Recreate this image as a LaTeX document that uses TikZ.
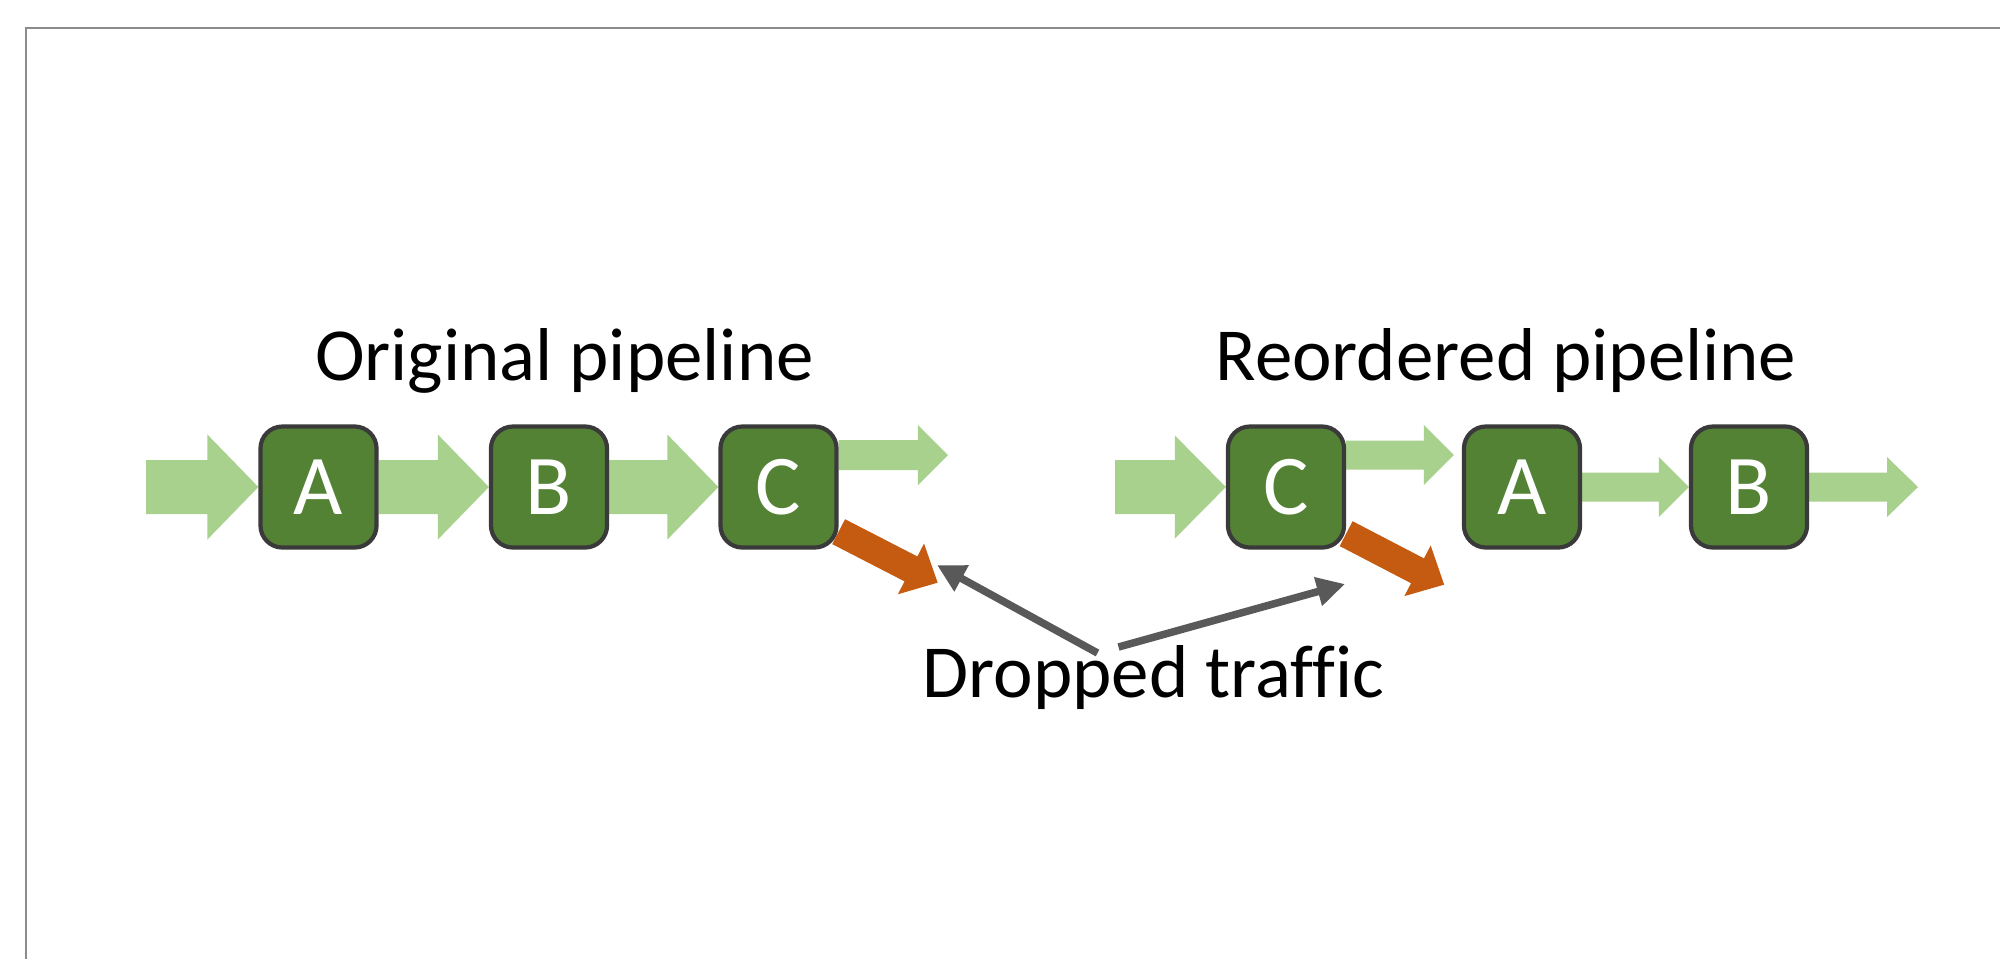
\documentclass[tikz,border=0pt]{standalone}
\usepackage{fontspec}
\setmainfont{Carlito}[Ligatures=NoCommon]
\usetikzlibrary{calc,arrows.meta}
\definecolor{lgreen}{HTML}{A9D18E}
\definecolor{dgreen}{HTML}{548235}
\definecolor{boxedge}{HTML}{3A3A3A}
\definecolor{dorange}{HTML}{C55A11}
\definecolor{pgrey}{HTML}{595959}
\definecolor{framegrey}{HTML}{8C8C8C}
\pgfdeclarelayer{paper}
\pgfdeclarelayer{bg}
\pgfsetlayers{paper,bg,main}
% #1 style, #2 start, #3 tip, #4 shaft half width, #5 head half width, #6 head length
\newcommand\fatarrow[6]{%
  \coordinate (fa-s) at (#2);
  \coordinate (fa-e) at (#3);
  \coordinate (fa-h) at ($(fa-e)!#6!(fa-s)$);
  \fill[#1] ($(fa-s)!#4!90:(fa-e)$) -- ($(fa-h)!#4!90:(fa-e)$) -- ($(fa-h)!#5!90:(fa-e)$)
    -- (fa-e) -- ($(fa-h)!#5!-90:(fa-e)$) -- ($(fa-h)!#4!-90:(fa-e)$)
    -- ($(fa-s)!#4!-90:(fa-e)$) -- cycle;
}
\begin{document}
\begin{tikzpicture}[x=0.01cm,y=-0.01cm,
  stage/.style={draw=boxedge, line width=0.042cm, fill=dgreen, rounded corners=0.22cm,
    minimum width=1.16cm, minimum height=1.21cm, inner sep=0pt, text=white,
    font=\fontsize{24.2}{29}\selectfont, text height=0.55cm, text depth=0pt},
  title/.style={font=\fontsize{21.3}{26}\selectfont, anchor=base, inner sep=0pt},
  pointer/.style={draw=pgrey, line width=0.075cm, -{Triangle[length=0.28cm,width=0.28cm]}},
  flow/.style={fill=lgreen},
  dropflow/.style={fill=dorange}]
\begin{pgfonlayer}{paper}
\fill[white] (0,0) rectangle (2000,959);
\end{pgfonlayer}
\useasboundingbox (0,0) rectangle (2000,959);
\draw[framegrey, line width=0.018cm] (26,959) -- (26,28) -- (2000,28);

\node[title] (t1) at (564.5,380) {Original pipeline};
\node[title] (t2) at (1506,380) {Reordered pipeline};
\node[title] (drop) at (1153.5,697) {Dropped traffic};

\node[stage] (A1) at (318.5,487) {A};
\node[stage] (B1) at (549,487) {B};
\node[stage] (C1) at (778.5,487) {C};
\node[stage] (C2) at (1286,487) {C};
\node[stage] (A2) at (1522,487) {A};
\node[stage] (B2) at (1749,487) {B};

\coordinate (in1) at (146,487);
\coordinate (out1) at (948,455);
\coordinate (in2) at (1115,487);
\coordinate (out2) at (1918,487);
\coordinate (tipL) at ($(C1.south east)+(99,33)$);
\coordinate (tipR) at ($(C2.south east)+(98,35)$);
\coordinate (dL) at (937,565);
\coordinate (dR) at (1345,584);

\begin{pgfonlayer}{bg}
\fatarrow{flow}{in1}{A1.west}{0.27cm}{0.525cm}{0.51cm}
\fatarrow{flow}{A1.east}{B1.west}{0.27cm}{0.525cm}{0.51cm}
\fatarrow{flow}{B1.east}{C1.west}{0.27cm}{0.525cm}{0.51cm}
\fatarrow{flow}{C1.east |- out1}{out1}{0.15cm}{0.30cm}{0.30cm}
\fatarrow{dropflow}{$(C1.south east)+(0,-18)$}{tipL}{0.14cm}{0.285cm}{0.30cm}

\fatarrow{flow}{in2}{C2.west}{0.27cm}{0.515cm}{0.51cm}
\fatarrow{flow}{$(C2.east)+(0,-32)$}{$(A2.west)+(-8,-32)$}{0.145cm}{0.30cm}{0.30cm}
\fatarrow{flow}{A2.east}{B2.west}{0.145cm}{0.30cm}{0.30cm}
\fatarrow{flow}{B2.east}{out2}{0.145cm}{0.30cm}{0.31cm}
\fatarrow{dropflow}{$(C2.south east)+(0,-16)$}{tipR}{0.14cm}{0.285cm}{0.30cm}
\end{pgfonlayer}

\draw[pointer] ($(drop.base)+(-56,-44)$) -- (dL);
\draw[pointer] ($(drop.base)+(-35,-50)$) -- (dR);
\end{tikzpicture}
\end{document}
